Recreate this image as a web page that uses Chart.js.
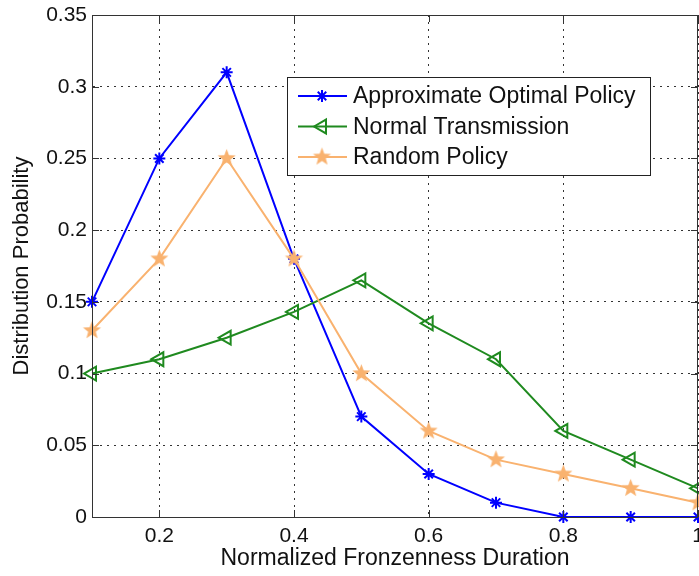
<!DOCTYPE html>
<html>
<head>
<meta charset="utf-8">
<title>Distribution Probability</title>
<script src="https://cdn.jsdelivr.net/npm/chart.js@4.4.1/dist/chart.umd.min.js"></script>
<style>
  html, body { margin: 0; padding: 0; background: #fff; }
  #chart { display: block; }
</style>
</head>
<body>
<canvas id="chart" width="699" height="576"></canvas>
<script>
// Data
const durations = [0.1, 0.2, 0.3, 0.4, 0.5, 0.6, 0.7, 0.8, 0.9, 1.0];
const optimalPolicy = [0.15, 0.25, 0.31, 0.18, 0.07, 0.03, 0.01, 0, 0, 0];
const normalTransmission = [0.10, 0.11, 0.125, 0.143, 0.165, 0.135, 0.11, 0.06, 0.04, 0.02];
const randomPolicy = [0.13, 0.18, 0.25, 0.18, 0.10, 0.06, 0.04, 0.03, 0.02, 0.01];
const xTicks = [0.2, 0.4, 0.6, 0.8, 1];
const yTicks = [0, 0.05, 0.1, 0.15, 0.2, 0.25, 0.3, 0.35];

const FONT = "'Liberation Sans', Arial, sans-serif";
const BLUE = '#0000ff';
const GREEN = '#1f8a1f';
const ORANGE = '#f9b26f';

// filled pentagram marker (Chart.js has no 5-point star)
function makePentagram(color, r) {
    const size = Math.ceil(r * 2 + 2);
    const c = document.createElement('canvas');
    c.width = size;
    c.height = size;
    const g = c.getContext('2d');
    const cx = size / 2, cy = size / 2, inner = r * 0.42;
    g.beginPath();
    for (let i = 0; i < 10; i++) {
        const rad = i % 2 === 0 ? r : inner;
        const a = -Math.PI / 2 + i * Math.PI / 5;
        const px = cx + rad * Math.cos(a), py = cy + rad * Math.sin(a);
        if (i === 0) g.moveTo(px, py); else g.lineTo(px, py);
    }
    g.closePath();
    g.fillStyle = color;
    g.fill();
    return c;
}
const pentagram = makePentagram(ORANGE, 9.5);

const toPoints = vals => durations.map((x, i) => ({ x: x, y: vals[i] }));

// box around the plot with inward ticks, like MATLAB axes
const axesBox = {
    id: 'axesBox',
    afterDatasetsDraw(chart) {
        const { ctx, chartArea: a, scales } = chart;
        const tl = 7;
        ctx.save();
        ctx.strokeStyle = '#333';
        ctx.lineWidth = 1;
        ctx.beginPath();
        xTicks.forEach(v => {
            const x = Math.round(scales.x.getPixelForValue(v)) + 0.5;
            ctx.moveTo(x, a.bottom); ctx.lineTo(x, a.bottom - tl);
            ctx.moveTo(x, a.top); ctx.lineTo(x, a.top + tl);
        });
        yTicks.forEach(v => {
            const y = Math.round(scales.y.getPixelForValue(v)) + 0.5;
            ctx.moveTo(a.left, y); ctx.lineTo(a.left + tl, y);
            ctx.moveTo(a.right, y); ctx.lineTo(a.right - tl, y);
        });
        ctx.stroke();
        ctx.strokeRect(Math.round(a.left) + 0.5, Math.round(a.top) + 0.5,
            Math.round(a.right - a.left) - 1, Math.round(a.bottom - a.top));
        ctx.restore();
    }
};

// legend box inside the plot, upper right
const boxLegend = {
    id: 'boxLegend',
    afterDraw(chart) {
        const ctx = chart.ctx;
        const bx = 287, by = 77, bw = 363, bh = 98;
        ctx.save();
        ctx.fillStyle = '#fff';
        ctx.fillRect(bx, by, bw, bh);
        ctx.strokeStyle = '#222';
        ctx.lineWidth = 1;
        ctx.strokeRect(bx + 0.5, by + 0.5, bw, bh);
        chart.data.datasets.forEach((ds, i) => {
            const y = by + 19 + i * 30.5;
            ctx.strokeStyle = ds.borderColor;
            ctx.lineWidth = ds.borderWidth;
            ctx.beginPath();
            ctx.moveTo(bx + 11, y);
            ctx.lineTo(bx + 60, y);
            ctx.stroke();
            ctx.fillStyle = ds.pointBackgroundColor;
            ctx.strokeStyle = ds.pointBorderColor;
            ctx.lineWidth = ds.pointBorderWidth;
            Chart.helpers.drawPoint(ctx, {
                pointStyle: ds.pointStyle,
                rotation: ds.pointRotation || 0,
                radius: ds.pointRadius,
                borderWidth: ds.pointBorderWidth
            }, bx + 35, y);
            ctx.fillStyle = '#111';
            ctx.font = '23px ' + FONT;
            ctx.textBaseline = 'middle';
            ctx.textAlign = 'left';
            ctx.fillText(ds.label, bx + 66, y + 1);
        });
        ctx.restore();
    }
};

const ctx = document.getElementById('chart').getContext('2d');
const chart = new Chart(ctx, {
    type: 'line',
    data: {
        datasets: [
            {
                label: 'Approximate Optimal Policy',
                data: toPoints(optimalPolicy),
                borderColor: BLUE,
                borderWidth: 2,
                pointStyle: 'star',
                pointRadius: 6,
                pointBorderWidth: 2,
                pointBorderColor: BLUE,
                pointBackgroundColor: BLUE,
                tension: 0,
                clip: false,
                order: 3
            },
            {
                label: 'Normal Transmission',
                data: toPoints(normalTransmission),
                borderColor: GREEN,
                borderWidth: 2,
                pointStyle: 'triangle',
                pointRotation: -90,
                pointRadius: 8,
                pointBorderWidth: 2,
                pointBorderColor: GREEN,
                pointBackgroundColor: 'rgba(0,0,0,0)',
                tension: 0,
                clip: false,
                order: 2
            },
            {
                label: 'Random Policy',
                data: toPoints(randomPolicy),
                borderColor: ORANGE,
                borderWidth: 2,
                pointStyle: pentagram,
                pointRadius: 9,
                pointBorderWidth: 0,
                pointBorderColor: ORANGE,
                pointBackgroundColor: ORANGE,
                tension: 0,
                clip: false,
                order: 1
            }
        ]
    },
    options: {
        responsive: false,
        animation: false,
        layout: { autoPadding: false, padding: { top: 15, right: 1, left: 0, bottom: 0 } },
        plugins: {
            legend: { display: false },
            tooltip: { enabled: false }
        },
        scales: {
            x: {
                type: 'linear',
                min: 0.1,
                max: 1,
                afterBuildTicks: s => { s.ticks = xTicks.map(v => ({ value: v })); },
                afterFit: s => { s.height = 59; s.paddingLeft = 0; s.paddingRight = 0; },
                ticks: {
                    autoSkip: false,
                    maxRotation: 0,
                    padding: 7,
                    color: '#111',
                    font: { family: FONT, size: 21 },
                    callback: v => String(+v.toFixed(2))
                },
                grid: { color: '#333', lineWidth: 1, drawTicks: false },
                border: { display: true, color: '#333', dash: [2, 5] },
                title: {
                    display: true,
                    text: 'Normalized Fronzenness Duration',
                    color: '#111',
                    font: { family: FONT, size: 23, lineHeight: 1.2 },
                    padding: { top: 0, bottom: 4 }
                }
            },
            y: {
                min: 0,
                max: 0.35,
                afterBuildTicks: s => { s.ticks = yTicks.map(v => ({ value: v })); },
                afterFit: s => { s.width = 92; s.paddingTop = 0; s.paddingBottom = 0; },
                ticks: {
                    padding: 5,
                    color: '#111',
                    font: { family: FONT, size: 21 },
                    callback: v => String(+v.toFixed(2))
                },
                grid: { color: '#333', lineWidth: 1, drawTicks: false },
                border: { display: true, color: '#333', dash: [2, 5] },
                title: {
                    display: true,
                    text: 'Distribution Probability',
                    color: '#111',
                    font: { family: FONT, size: 22, lineHeight: 1.2 },
                    padding: { top: 9, bottom: 0 }
                }
            }
        }
    },
    plugins: [axesBox, boxLegend]
});
</script>
</body>
</html>
